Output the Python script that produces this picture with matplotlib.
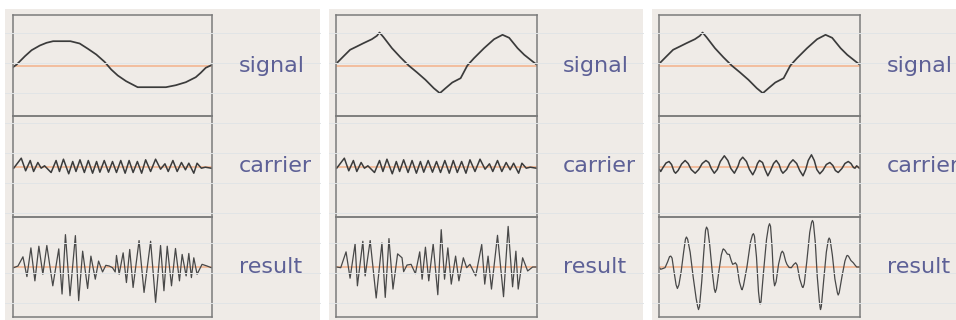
import numpy as np
import matplotlib.pyplot as plt
from matplotlib.patches import Rectangle
from matplotlib.lines import Line2D

# ---------- data (x = position across box 0..200, y = offset from centre line) ----------
SIGNAL_SINE_X = [0, 3.7, 7, 12, 18.7, 27, 33.7, 40.3, 57.7, 67, 75.3, 83.7, 92, 98.7, 105.3,
                 113.7, 122, 125.3, 153.7, 163.7, 173.7, 183.7, 188.7, 193.7, 199.3]
SIGNAL_SINE_Y = [-1.7, 1, 4.3, 9.3, 15.3, 20, 22.7, 24.3, 24.3, 22, 16.7, 11, 3.7, -4, -10,
                 -15.7, -20, -21.7, -21.7, -19.7, -16.7, -11.7, -7.3, -2.3, 0.3]

SIGNAL_TRI_X = [0.7, 7.3, 14, 20.7, 27.3, 35.7, 40.7, 43.3, 47.3, 55.7, 64, 72.3, 80.7, 89,
                97.3, 103.3, 109, 115.7, 124, 130.7, 137.3, 147.3, 157.3, 165.7, 172.3,
                180.7, 187.3, 195.7, 200]
SIGNAL_TRI_Y = [2.3, 9, 15.7, 19, 22.3, 26.3, 29.7, 33, 28.3, 17.3, 8.3, 0, -7, -14.3,
                -22.7, -27.7, -22.7, -17, -12.7, 0, 7.3, 17.3, 26.3, 30.7, 27.7,
                17.3, 10.7, 4, 0.7]

CARRIER_FAST_X = [0.7, 8.3, 12.7, 17.3, 20.7, 25, 28.3, 31.7, 38.3, 43.3, 46.7, 50.7, 56, 60,
                  63.3, 67.3, 71.7, 75.7, 80, 84, 87.3, 91.7, 96, 100, 104, 108.3, 112.7,
                  116.7, 120.7, 125, 129.3, 133.3, 138.3, 143.3, 148.3, 152.7, 156, 160.7,
                  165, 169.3, 173.3, 176.7, 181.7, 185, 189.3, 193.3, 199.3]
CARRIER_FAST_Y = [-1.7, 8.3, -4.3, 6, -5, 4, -1.7, 0.7, -6, 6, -5, 7.3, -7.3, 5,
                  -5, 6.7, -6, 6, -6.7, 5, -5.7, 6, -5.7, 5, -6, 6, -6.7,
                  6, -6, 5, -6.7, 6.7, -5, 7.3, -2.7, 2.7, -5, 6,
                  -5, 4, -3.3, 3.3, -6.7, 3.3, -1.7, -0.7, -1.7]

CARRIER_SLOW_X = [0.5, 1.7, 4, 7, 10, 12.5, 15, 16.5, 19, 22.5, 26, 29, 32, 36, 39.5, 43,
                  46.7, 49.5, 52, 55, 58, 61, 65, 68.5, 71.5, 75, 78.5, 80.5, 83.3, 87, 90,
                  93.3, 96, 98, 100, 103, 105.5, 108.3, 111, 114, 116.7, 119.5, 121.5,
                  123.3, 127, 130, 133.3, 137, 140, 143.3, 146, 148.5, 151.7, 154.5, 157,
                  160, 163, 166.5, 170, 173, 175.5, 178.3, 182, 185, 188.3, 191, 193.5,
                  195, 196.7, 198, 199.3]
CARRIER_SLOW_Y = [-3, -5, -1, 3.5, 5, 2, -5, -6.7, -4, 2.5, 6, 3, -3, -6.7, -3, 3,
                  6, 4, -2, -6.7, -3, 5, 10.7, 6, -2, -6.7, 0, 6, 9.3, 5, -3,
                  -8.3, -3, 3, 6, 4, -3, -9.3, -4, 3, 6, 2, -4,
                  -6.7, -3, 3, 6.7, 3, -4, -9.3, -3, 6, 11.7, 6, -3,
                  -7.3, -4, 2, 4, 1, -4, -6, -2, 3, 5, 3, -1,
                  -1.7, 0.7, -0.5, -1.7]

RESULT_SINE_X = [0.7, 5, 10, 14, 18, 22, 26, 30, 34, 40, 46, 49.3, 52.7, 57.3, 62.7, 66, 70,
                 75, 78.3, 82.7, 86, 90, 93.3, 96.7, 100, 102.7, 104, 106.7, 110.7, 114,
                 117.3, 120.7, 126.7, 131.7, 138.3, 143.3, 148.3, 151.7, 155, 159.3, 163.3,
                 167.3, 170, 174, 176.7, 179.3, 181.7, 185, 190, 195, 199.3]
RESULT_SINE_Y = [-0.7, 1, 10.3, -9.7, 19.3, -14, 21, -7.3, 21.7, -19, 18.3, -27.3, 32.7,
                 -29, 31.7, -34, 16, -21.7, 11, -12.3, 6, -5, 1.7, 1, -0.7, -5, 11.7, -7.3,
                 14.3, -15.7, 17.7, -20.7, 26.7, -25.7, 26, -35.7, 21.7, -24, 21, -19,
                 18.7, -14, 12.7, -9, 13.7, -10.7, 9.3, -7.3, 2.7, 1, -0.7]

RESULT_TRI_X = [0.7, 4.7, 10, 14, 19, 21.3, 26.7, 29, 34, 40, 45.7, 49, 52.7, 56.7, 61.3,
                65.7, 67.3, 70.7, 74.7, 79, 83.3, 85.7, 89, 92.3, 96.7, 101.3, 104.7, 108,
                111.3, 114.7, 119, 122.3, 126.7, 130, 133.3, 139, 145, 148, 151.3, 154.7,
                160.7, 166.7, 171.3, 175.7, 179, 181.3, 185.7, 190.7, 195.7, 199]
RESULT_TRI_Y = [0, -0.7, 15.3, -11.3, 23.3, -19, 26, -9, 26.7, -31.3, 24.3, -30.7, 28.7,
                -22.3, 13.3, 9.3, -4.7, 2, 2.7, -6.7, 15.3, -12.3, 20, -14, 23.3, -28,
                37.7, -12.3, 19.3, -17.3, 11, -14, 9.3, -0.7, 2.7, -9, 22.7, -17.3, 11,
                -22.3, 32, -30, 41, -20, 16, -22.3, 9.3, -4, 0, 0]

RESULT_SLOW_X = [0.7, 1.7, 4, 6, 8.5, 10.5, 11.7, 13, 15, 17, 18.3, 19.8, 22, 24.5, 26.3,
                 27.3, 28.5, 31, 34, 37, 38.5, 39.3, 40.3, 42.5, 44.5, 46.3, 47.3, 48.5,
                 50.5, 53, 55, 56, 57.2, 59.5, 62, 63.5, 64, 65.5, 68, 70, 72, 73.3, 75, 76,
                 77.5, 80, 82, 82.7, 84, 87.5, 91, 93, 94, 95, 97, 99, 100.2, 100.7, 101.5,
                 104, 107, 109, 110, 111, 112.5, 114, 115, 116.5, 119, 121.5, 122.7, 124,
                 126, 127.3, 129.5, 131.7, 134, 136, 137.5, 140, 142.5, 143.3, 144.5, 147,
                 150, 151.8, 152.7, 153.6, 155.5, 157.5, 159.5, 160.3, 160.7, 161.5, 164,
                 166.5, 168.5, 169.3, 170.3, 172.5, 175, 177.5, 178.3, 179.3, 182, 185,
                 186.7, 187.3, 188.5, 191, 193.3, 195, 196.7, 199.3]
RESULT_SLOW_Y = [-1, -2.3, -1.5, -0.7, 5, 10.5, 11, 9, -5, -18, -21.7, -18, -5, 15, 28,
                 30.3, 28, 15, -10, -32, -40, -43, -40, -15, 14, 37, 40.3, 38,
                 22, -5, -22, -25.7, -22, -5, 12, 17.5, 18.3, 17, 13, 12.7, 6, 2.7, 3.5, 4.3,
                 2, -15, -22, -23, -19, 0, 25, 32.5, 33.7, 31, 10, -25, -36, -37.3, -35,
                 -5, 28, 41, 43.7, 41, 20, -12, -19, -15, 3, 14, 16, 14,
                 6, 2.7, -0.5, -0.7, 2.5, 4.3, 2, -12, -20, -20.7, -17, 5,
                 35, 45, 47, 45, 25, -10, -34, -41, -43, -40, -12,
                 15, 27.5, 29.3, 27.5, 12, -12, -26, -28.3, -26, -10, 6,
                 11, 11.7, 11, 6.5, 4.3, 2, 0, 0]

ROW_LABELS = ["signal", "carrier", "result"]
PANELS = [
    [(SIGNAL_SINE_X, SIGNAL_SINE_Y), (CARRIER_FAST_X, CARRIER_FAST_Y), (RESULT_SINE_X, RESULT_SINE_Y)],
    [(SIGNAL_TRI_X, SIGNAL_TRI_Y), (CARRIER_FAST_X, CARRIER_FAST_Y), (RESULT_TRI_X, RESULT_TRI_Y)],
    [(SIGNAL_TRI_X, SIGNAL_TRI_Y), (CARRIER_SLOW_X, CARRIER_SLOW_Y), (RESULT_SLOW_X, RESULT_SLOW_Y)],
]

# ---------- layout (pixels) ----------
W, H = 956, 320
PAPER = "#efebe7"
RULE = "#e1e4e6"
BOX_EDGE = "#7b7b7b"
ZERO = "#f3b591"
INK = "#3b3b3b"
LABEL = "#5d6096"

paper_x = [(5, 320), (329, 643), (652, 956)]
box_x = [(13, 212), (336, 537), (659, 860)]
rows_y = [(15, 116), (116, 217), (217, 317)]
label_x = [239, 563, 887]

fig = plt.figure(figsize=(W / 100, H / 100), dpi=100)
fig.patch.set_facecolor("white")

def fx(px):
    return px / W

def fy(py):
    return 1 - py / H

# paper sheets + faint ruled lines
for x0, x1 in paper_x:
    fig.add_artist(Rectangle((fx(x0), 0), fx(x1 - x0), fy(9), transform=fig.transFigure,
                             facecolor=PAPER, edgecolor="none", zorder=0))
    for ly in range(33, 320, 30):
        fig.add_artist(Line2D([fx(x0), fx(x1)], [fy(ly), fy(ly)], transform=fig.transFigure,
                              color=RULE, lw=0.7, zorder=0.5))

for p, (bx0, bx1) in enumerate(box_x):
    for r, (ry0, ry1) in enumerate(rows_y):
        ax = fig.add_axes([fx(bx0), fy(ry1), fx(bx1 - bx0), (ry1 - ry0) / H])
        ax.patch.set_alpha(0)
        xs, ys = PANELS[p][r]
        ax.axhline(0, color=ZERO, lw=1.2, zorder=1)
        lw = [1.25, 1.1, 0.9][r]
        col = INK if r < 2 else "#484848"
        ax.plot(xs, ys, color=col, lw=lw, solid_joinstyle="round", zorder=2)
        ax.set_xlim(0, 200)
        ax.set_ylim(-50.5, 50.5)
        ax.set_xticks([])
        ax.set_yticks([])
        for s in ax.spines.values():
            s.set_color(BOX_EDGE)
            s.set_linewidth(1.1)
        # label text; the right-hand "carrier" runs off the sheet as in the original
        fig.text(fx(label_x[p]), fy((ry0 + ry1) / 2), ROW_LABELS[r], color=LABEL,
                 fontsize=16, ha="left", va="center", family="DejaVu Sans")

fig.savefig("out.png", dpi=100)
